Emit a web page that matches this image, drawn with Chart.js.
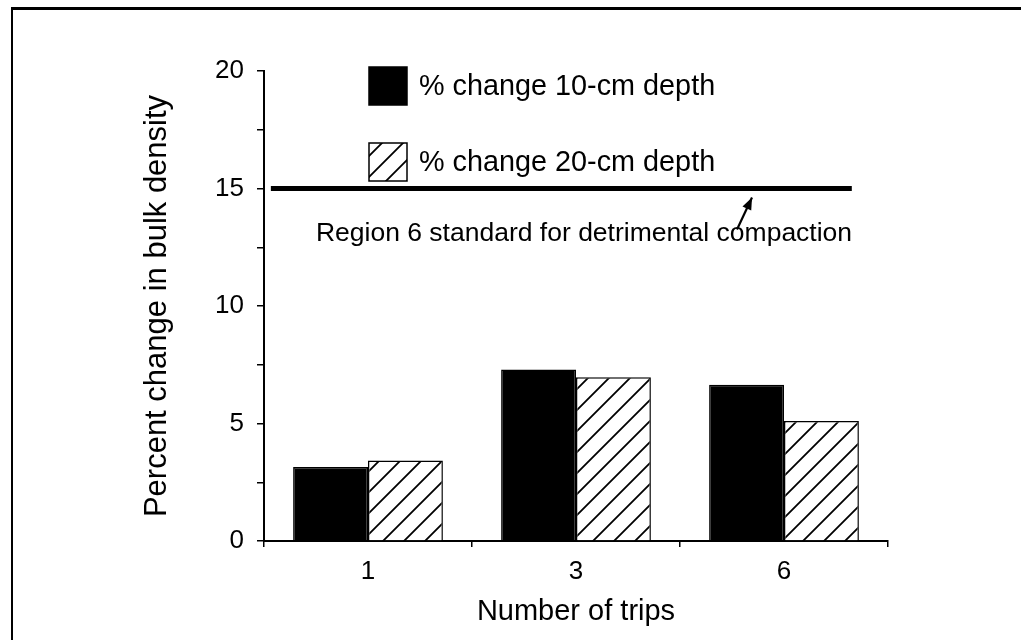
<!DOCTYPE html>
<html><head><meta charset="utf-8">
<script src="https://cdn.jsdelivr.net/npm/chart.js@4.4.0/dist/chart.umd.min.js"></script>
<style>
html,body{margin:0;padding:0;background:#fff;width:1021px;height:640px;overflow:hidden}
#frame{position:absolute;left:11px;top:7px;width:1100px;height:700px;border-top:3px solid #000;border-left:2px solid #000}
#wrap{position:absolute;left:0;top:0;width:1021px;height:640px}
</style></head><body>
<div id="frame"></div>
<div id="wrap"><canvas id="c"></canvas></div>
<script>
const categories = ['1', '3', '6'];
const depth10 = [3.15, 7.3, 6.65];
const depth20 = [3.43, 6.97, 5.11];
const seriesLabels = ['% change 10-cm depth', '% change 20-cm depth'];
const standardValue = 15;
const yMin = 0, yMax = 20, yStep = 2.5, yLabelStep = 5;
const annotationText = 'Region 6 standard for detrimental compaction';
const xTitle = 'Number of trips';
const yTitle = 'Percent change in bulk density';

const FONT = "'Liberation Sans', Arial, Helvetica, sans-serif";

function makeHatch() {
  const s = 21;
  const c = document.createElement('canvas');
  c.width = s; c.height = s;
  const g = c.getContext('2d');
  g.fillStyle = '#fff'; g.fillRect(0, 0, s, s);
  g.strokeStyle = '#000'; g.lineWidth = 1.8;
  g.beginPath();
  g.moveTo(-2, s + 2); g.lineTo(s + 2, -2);
  g.moveTo(-3, 3); g.lineTo(3, -3);
  g.moveTo(s - 3, s + 3); g.lineTo(s + 3, s - 3);
  g.stroke();
  return c;
}
const hatchCanvas = makeHatch();
const ctx0 = document.getElementById('c').getContext('2d');
const hatch = ctx0.createPattern(hatchCanvas, 'repeat');

const decor = {
  id: 'decor',
  afterDatasetsDraw(chart, args, o) {
    const ctx = chart.ctx;
    const y = chart.scales.y;
    const area = chart.chartArea;
    const ly = y.getPixelForValue(standardValue);
    ctx.save();
    // standard line
    ctx.strokeStyle = '#000';
    ctx.lineWidth = 5;
    ctx.beginPath();
    ctx.moveTo(area.left + o.lineFrom * area.width, ly);
    ctx.lineTo(area.left + o.lineTo * area.width, ly);
    ctx.stroke();
    // legend
    ctx.font = '28.8px ' + FONT;
    ctx.textBaseline = 'middle';
    ctx.textAlign = 'left';
    const fills = ['#000', hatch];
    o.legendRows.forEach((row, i) => {
      ctx.fillStyle = fills[i];
      ctx.fillRect(o.legendX, row, o.box, o.box);
      ctx.strokeStyle = '#000'; ctx.lineWidth = 1.5;
      ctx.strokeRect(o.legendX, row, o.box, o.box);
      ctx.fillStyle = '#000';
      ctx.fillText(seriesLabels[i], o.legendX + o.box + 12, row + o.box / 2 + 1);
    });
    // annotation
    ctx.font = '26.5px ' + FONT;
    ctx.textAlign = 'center';
    ctx.textBaseline = 'alphabetic';
    ctx.fillText(annotationText, o.textX, ly + o.textDy);
    // arrow
    const tipX = o.arrowTipX, tipY = ly + o.arrowTipDy;
    const tailX = o.arrowTailX, tailY = ly + o.arrowTailDy;
    ctx.strokeStyle = '#000'; ctx.lineWidth = 2.2;
    ctx.beginPath(); ctx.moveTo(tailX, tailY); ctx.lineTo(tipX, tipY); ctx.stroke();
    const ang = Math.atan2(tipY - tailY, tipX - tailX);
    const hl = 13;
    ctx.beginPath();
    ctx.moveTo(tipX, tipY);
    ctx.lineTo(tipX - hl * Math.cos(ang - 0.38), tipY - hl * Math.sin(ang - 0.38));
    ctx.lineTo(tipX - hl * Math.cos(ang + 0.38), tipY - hl * Math.sin(ang + 0.38));
    ctx.closePath(); ctx.fillStyle = '#000'; ctx.fill();
    ctx.restore();
  }
};

new Chart(ctx0, {
  type: 'bar',
  data: {
    labels: categories,
    datasets: [
      { label: seriesLabels[0], data: depth10, backgroundColor: '#000' },
      { label: seriesLabels[1], data: depth20, backgroundColor: hatch }
    ]
  },
  options: {
    responsive: true, maintainAspectRatio: false, animation: false, devicePixelRatio: 1,
    layout: { padding: { left: 135, top: 71, right: 133, bottom: 6 } },
    datasets: { bar: { categoryPercentage: 0.72, barPercentage: 1.0, borderColor: '#000', borderWidth: 1.5 } },
    plugins: {
      legend: { display: false }, tooltip: { enabled: false },
      decor: { lineFrom: 0.011, lineTo: 0.942, legendX: 369, legendRows: [67, 143], box: 38, textX: 584, textDy: 52, arrowTipX: 752, arrowTipDy: 9, arrowTailX: 737, arrowTailDy: 41 }
    },
    scales: {
      x: {
        type: 'category', position: 'bottom',
        grid: { display: true, drawOnChartArea: false, drawTicks: true, tickLength: 6, color: '#000', lineWidth: 1.5, offset: true },
        border: { display: true, color: '#000', width: 2 },
        ticks: { color: '#000', font: { family: FONT, size: 26 }, padding: 9 },
        title: { display: true, text: xTitle, color: '#000', font: { family: FONT, size: 29 }, padding: { top: 4, bottom: 5 } },
        afterFit(s) { s.height = 93; }
      },
      y: {
        min: yMin, max: yMax,
        grid: { display: true, drawOnChartArea: false, drawTicks: true, tickLength: 7, color: '#000', lineWidth: 1.5 },
        border: { display: true, color: '#000', width: 2 },
        ticks: { stepSize: yStep, color: '#000', font: { family: FONT, size: 26 }, padding: 13,
          callback: v => (v % yLabelStep === 0 ? v : '') },
        title: { display: true, text: yTitle, color: '#000', font: { family: FONT, size: 31 }, padding: { top: 4, bottom: 4 } },
        afterFit(s) { s.width = 129; }
      }
    }
  },
  plugins: [decor]
});
</script>
</body></html>
